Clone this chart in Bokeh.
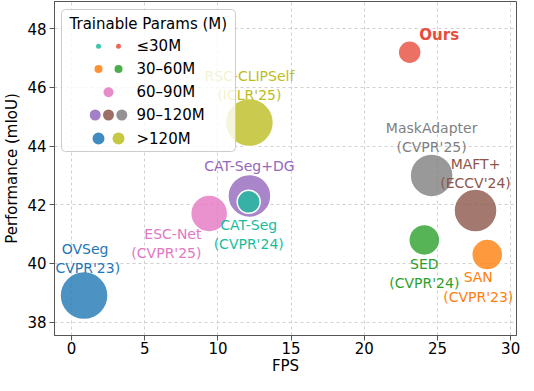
from bokeh.plotting import figure
from bokeh.models import Range1d, FixedTicker
from bokeh.core.properties import value
from bokeh.embed import file_html
from bokeh.resources import INLINE

# ---------------- data ----------------
methods = ["OVSeg", "RSC-CLIPSelf", "MaskAdapter", "MAFT+", "CAT-Seg+DG",
           "ESC-Net", "SED", "SAN", "CAT-Seg", "Ours"]
venues = ["CVPR'23", "ICLR'25", "CVPR'25", "ECCV'24", "",
          "CVPR'25", "CVPR'24", "CVPR'23", "CVPR'24", ""]
fps = [0.85, 12.15, 24.6, 27.6, 12.15, 9.4, 24.1, 28.4, 12.1, 23.1]
miou = [38.9, 44.8, 43.0, 41.8, 42.3, 41.7, 40.8, 40.3, 42.1, 47.2]
params = [">120M", ">120M", "90–120M", "90–120M", "90–120M",
          "60–90M", "30–60M", "30–60M", "≤30M", "≤30M"]

param_bins = ["≤30M", "30–60M", "60–90M", "90–120M", ">120M"]
legend_members = [["CAT-Seg", "Ours"], ["SAN", "SED"], ["ESC-Net"],
                  ["CAT-Seg+DG", "MAFT+", "MaskAdapter"], ["OVSeg", "RSC-CLIPSelf"]]

x_ticks = [0, 5, 10, 15, 20, 25, 30]
y_ticks = [38, 40, 42, 44, 46, 48]

# ---------------- styles ----------------
color_of = {
    "OVSeg": "#1f77b4", "RSC-CLIPSelf": "#bcbd22", "MaskAdapter": "#7f7f7f",
    "MAFT+": "#8c564b", "CAT-Seg+DG": "#9467bd", "ESC-Net": "#e377c2",
    "SED": "#2ca02c", "SAN": "#ff7f0e", "CAT-Seg": "#1abc9c", "Ours": "#e74c3c",
}
bubble_px = {"≤30M": 23, "30–60M": 31, "60–90M": 37, "90–120M": 43, ">120M": 48}
legend_px = {"≤30M": 5, "30–60M": 8, "60–90M": 10, "90–120M": 11, ">120M": 12}
# label offsets in screen pixels (dx, dy; dy positive = down) and alignment
label_layout = {
    "OVSeg": (1, -37.5, "center"), "RSC-CLIPSelf": (0, -37, "center"),
    "MaskAdapter": (0, -37.5, "center"), "MAFT+": (0, -37, "center"),
    "CAT-Seg+DG": (0, -30, "center"), "ESC-Net": (-7.7, 29.7, "right"),
    "SED": (0, 33.3, "center"), "SAN": (-9, 32.4, "center"),
    "CAT-Seg": (0, 32.7, "center"), "Ours": (9.7, -17, "left"),
}
FONT = value("DejaVu Sans")
FW, FH = 462, 334

p = figure(frame_width=FW, frame_height=FH,
           x_range=Range1d(-1.17, 30.4), y_range=Range1d(37.54, 48.93),
           output_backend="svg", toolbar_location=None,
           min_border_left=52, min_border_right=4, min_border_top=1, min_border_bottom=38)
p.background_fill_color = "white"
p.border_fill_color = "white"
p.outline_line_color = "#555555"
p.outline_line_width = 1

p.extra_x_ranges = {"px": Range1d(0, FW)}
p.extra_y_ranges = {"py": Range1d(FH, 0)}

for ax, ticks, lab in ((p.xaxis, x_ticks, "FPS"), (p.yaxis, y_ticks, "Performance (mIoU)")):
    ax.ticker = FixedTicker(ticks=ticks)
    ax.axis_label = lab
    ax.axis_label_text_font = "DejaVu Sans"
    ax.axis_label_text_font_size = "15px"
    ax.axis_label_text_font_style = "normal"
    ax.axis_label_text_color = "black"
    ax.major_label_text_font = "DejaVu Sans"
    ax.major_label_text_font_size = "15px"
    ax.major_label_text_color = "black"
    ax.axis_line_color = "#555555"
    ax.major_tick_line_color = "#555555"
    ax.major_tick_in = 0
    ax.major_tick_out = 5
    ax.minor_tick_line_color = None
p.xaxis.major_label_standoff = 1
p.xaxis.axis_label_standoff = 0
p.yaxis.major_label_standoff = 3
p.yaxis.axis_label_standoff = 3

p.grid.grid_line_color = "#d0d0d0"
p.grid.grid_line_dash = "3 3"
p.grid.grid_line_width = 1

# bubbles
p.scatter(x=fps, y=miou, size=[bubble_px[c] for c in params],
          fill_color=[color_of[m] for m in methods], fill_alpha=0.8,
          line_color="white", line_width=1.5)

# labels
for m, v, x, y in zip(methods, venues, fps, miou):
    dx, dy, align = label_layout[m]
    txt = m if not v else m + "\n(" + v + ")"
    bold = (m == "Ours")
    p.text(x=[x], y=[y], text=[txt], x_offset=dx, y_offset=dy,
           text_align=align, text_baseline="middle", text_line_height=1.2,
           text_font=FONT, text_font_size="15px" if bold else "14px",
           text_font_style="bold" if bold else "normal",
           text_color=color_of[m])

# legend (frame pixel coordinates)
p.quad(left=[7], right=[181], top=[8], bottom=[150],
       x_range_name="px", y_range_name="py",
       fill_color="white", fill_alpha=0.8, line_color="#cccccc", line_width=1,
       border_radius=4, level="overlay")
p.text(x=[15], y=[22], text=["Trainable Params (M)"], x_range_name="px", y_range_name="py",
       text_align="left", text_baseline="middle", text_font=FONT,
       text_font_size="15px", text_color="black", level="overlay")
row_y = [44.7, 67.5, 90.7, 113.5, 137]
center_x = 54
for b, members, ry in zip(param_bins, legend_members, row_y):
    n = len(members)
    step = 20 if n == 2 else 13.3
    xs = [center_x + (k - (n - 1) / 2) * step for k in range(n)]
    p.scatter(x=xs, y=[ry] * n, size=legend_px[b],
              fill_color=[color_of[m] for m in members], fill_alpha=0.85,
              line_color=None, x_range_name="px", y_range_name="py", level="overlay")
    p.text(x=[82], y=[ry], text=[b], x_range_name="px", y_range_name="py",
           text_align="left", text_baseline="middle", text_font=FONT,
           text_font_size="15px", text_color="black", level="overlay")

open("out.html", "w").write(file_html(p, INLINE))
